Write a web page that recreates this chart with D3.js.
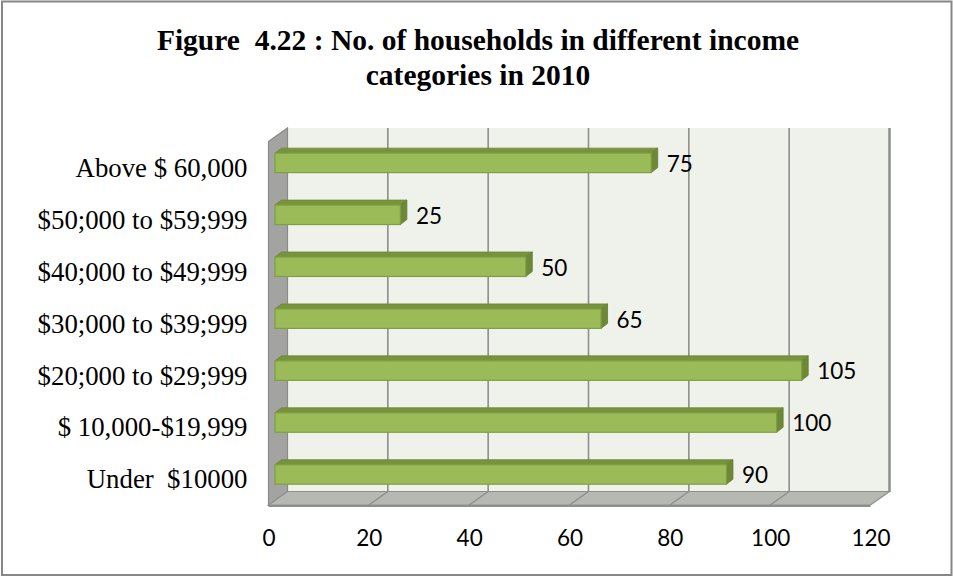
<!DOCTYPE html>
<html>
<head>
<meta charset="utf-8">
<script src="https://cdn.jsdelivr.net/npm/d3@7"></script>
<style>
  html, body { margin: 0; padding: 0; background: #ffffff; }
  svg { display: block; }
  svg text { white-space: pre; }
</style>
</head>
<body>
<svg id="chart" width="953" height="577"></svg>
<script>
// Income categories, listed top to bottom as shown on the vertical axis
const categories = [
  "Above $ 60,000",
  "$50;000 to $59;999",
  "$40;000 to $49;999",
  "$30;000 to $39;999",
  "$20;000 to $29;999",
  "$ 10,000-$19,999",
  "Under  $10000"
];
// Number of households in each category
const households = [75, 25, 50, 65, 105, 100, 90];
// Horizontal axis ticks
const xTicks = [0, 20, 40, 60, 80, 100, 120];

const titleLines = [
  "Figure  4.22 : No. of households in different income",
  "categories in 2010"
];

const svg = d3.select("#chart");

// Outer frame
svg.append("rect")
  .attr("x", 2).attr("y", 1.5)
  .attr("width", 949.5).attr("height", 573.5)
  .attr("fill", "#ffffff")
  .attr("stroke", "#878787")
  .attr("stroke-width", 2);

// Title
svg.append("g")
  .selectAll("text")
  .data(titleLines)
  .join("text")
  .attr("x", 478)
  .attr("y", (d, i) => 50 + i * 35)
  .attr("text-anchor", "middle")
  .attr("font-family", "'Liberation Serif', 'Times New Roman', serif")
  .attr("font-weight", "bold")
  .attr("font-size", 29.5)
  .attr("fill", "#000")
  .text(d => d);

// 3-D plot box: front plane coordinates + depth offset to the back wall
const front = { left: 268.5, right: 870.5, top: 141.5, bottom: 505 };
const depth = { dx: 19, dy: -13.5 };

const x = d3.scaleLinear().domain([0, 120]).range([front.left, front.right]);
const y = d3.scaleBand()
  .domain(categories)
  .range([front.top, front.bottom])
  .paddingInner(0.625)
  .paddingOuter(0.3125);

const backTop = front.top + depth.dy;
const backBottom = front.bottom + depth.dy;

// Back wall
svg.append("rect")
  .attr("x", x(0) + depth.dx)
  .attr("y", backTop)
  .attr("width", x(120) - x(0))
  .attr("height", backBottom - backTop)
  .attr("fill", "#eff1eb");

// Vertical gridlines on the back wall
svg.append("g")
  .selectAll("line")
  .data(xTicks.filter(v => v > 0))
  .join("line")
  .attr("x1", v => x(v) + depth.dx)
  .attr("x2", v => x(v) + depth.dx)
  .attr("y1", backTop)
  .attr("y2", backBottom)
  .attr("stroke", "#8e8e8e")
  .attr("stroke-width", v => v === 120 ? 2.5 : 1.6);

// Left side wall
const leftWall = [
  [x(0), front.top],
  [x(0) + depth.dx, backTop],
  [x(0) + depth.dx, backBottom],
  [x(0), front.bottom]
];
svg.append("polygon")
  .attr("points", leftWall.map(p => p.join(",")).join(" "))
  .attr("fill", "#a3a4a2")
  .attr("stroke", "#8a8b88")
  .attr("stroke-width", 1.2);

// Floor
const floor = [
  [x(0), front.bottom],
  [x(0) + depth.dx, backBottom],
  [x(120) + depth.dx, backBottom],
  [x(120), front.bottom]
];
svg.append("polygon")
  .attr("points", floor.map(p => p.join(",")).join(" "))
  .attr("fill", "#b6b8b2")
  .attr("stroke", "#8e8f8c")
  .attr("stroke-width", 1.2);
// floor thickness edge
svg.append("line")
  .attr("x1", x(0)).attr("x2", x(120))
  .attr("y1", front.bottom + 1).attr("y2", front.bottom + 1)
  .attr("stroke", "#8e8f8c").attr("stroke-width", 2);

// Gridline continuation across the floor
svg.append("g")
  .selectAll("line")
  .data(xTicks.filter(v => v > 0 && v < 120))
  .join("line")
  .attr("x1", v => x(v) + depth.dx)
  .attr("y1", backBottom)
  .attr("x2", v => x(v))
  .attr("y2", front.bottom)
  .attr("stroke", "#8e8e8e")
  .attr("stroke-width", 1.3);

// Bars: boxes sitting in the middle of the plot depth
const barFront = 0.34;   // fraction of depth where the bar's front face sits
const bdx = depth.dx * barFront, bdy = depth.dy * barFront;
const tdx = 6.5, tdy = -5;   // bar's own depth

const rows = categories.map((c, i) => ({ cat: c, value: households[i] }));

const bars = svg.append("g").selectAll("g")
  .data(rows)
  .join("g");

// top face
bars.append("polygon")
  .attr("points", d => {
    const x0 = x(0) + bdx, x1 = x(d.value) + bdx, yt = y(d.cat) + bdy;
    return [[x0, yt], [x1, yt], [x1 + tdx, yt + tdy], [x0 + tdx, yt + tdy]]
      .map(p => p.join(",")).join(" ");
  })
  .attr("fill", "#77933c")
  .attr("stroke", "#6c8836")
  .attr("stroke-width", 0.8);

// end face
bars.append("polygon")
  .attr("points", d => {
    const x1 = x(d.value) + bdx, yt = y(d.cat) + bdy, yb = yt + y.bandwidth();
    return [[x1, yt], [x1 + tdx, yt + tdy], [x1 + tdx, yb + tdy], [x1, yb]]
      .map(p => p.join(",")).join(" ");
  })
  .attr("fill", "#6d8937")
  .attr("stroke", "#637d31")
  .attr("stroke-width", 0.8);

// front face
bars.append("rect")
  .attr("x", x(0) + bdx)
  .attr("y", d => y(d.cat) + bdy)
  .attr("width", d => x(d.value) - x(0))
  .attr("height", y.bandwidth())
  .attr("fill", "#9bbb59")
  .attr("stroke", "#7f9e43")
  .attr("stroke-width", 1.2);

// Value labels
bars.append("text")
  .attr("x", d => x(d.value) + bdx + tdx + 9)
  .attr("y", d => y(d.cat) + bdy + y.bandwidth() / 2 + 1)
  .attr("dy", "0.35em")
  .attr("font-family", "Lato, 'Open Sans', sans-serif")
  .attr("font-size", 22.5)
  .attr("fill", "#000")
  .text(d => d.value);

// Category axis
const yAxis = svg.append("g")
  .attr("transform", `translate(${front.left - 21},0)`)
  .call(d3.axisLeft(y).tickSize(0).tickPadding(0));
yAxis.select(".domain").remove();
yAxis.selectAll("text")
  .attr("font-family", "'Liberation Serif', 'Times New Roman', serif")
  .attr("font-size", 26.8)
  .attr("fill", "#000")
  .attr("dy", "0.35em");

// Value axis tick labels
const xAxis = svg.append("g")
  .attr("transform", `translate(0,${front.bottom + 33})`)
  .call(d3.axisBottom(x).tickValues(xTicks).tickSize(0).tickPadding(0));
xAxis.select(".domain").remove();
xAxis.selectAll("text")
  .attr("font-family", "Lato, 'Open Sans', sans-serif")
  .attr("font-size", 22.5)
  .attr("fill", "#000")
  .attr("dy", "0.35em");
</script>
</body>
</html>
